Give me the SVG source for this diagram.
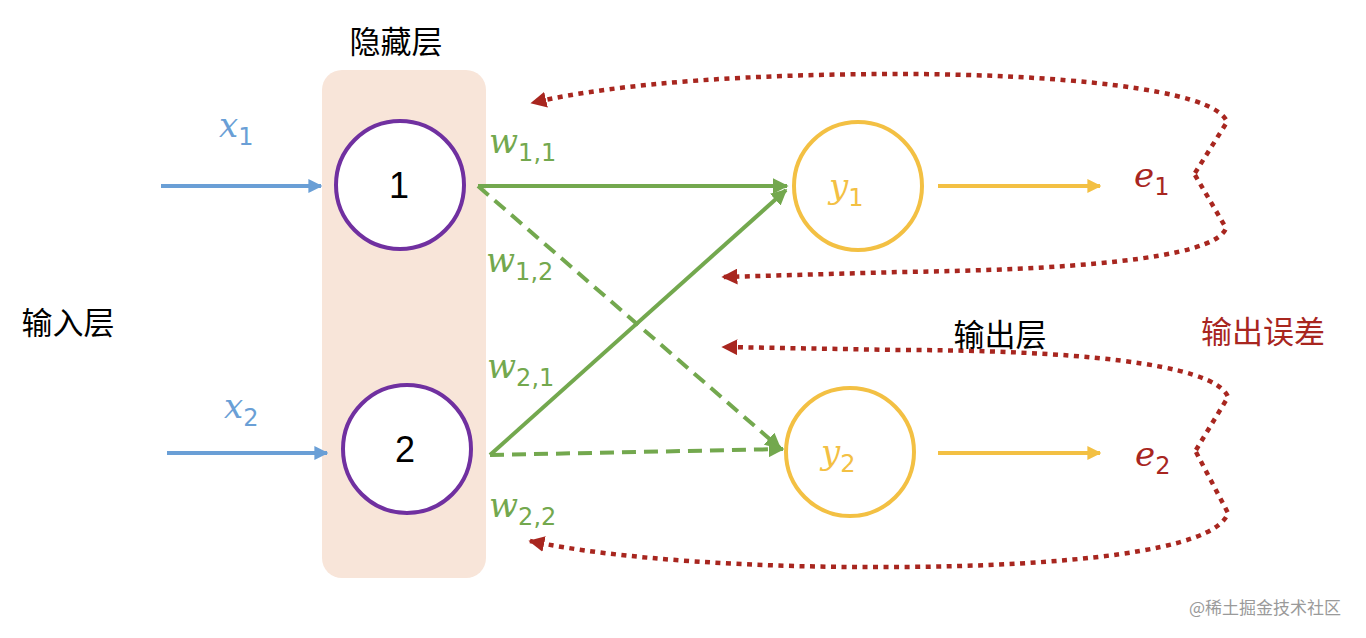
<svg xmlns="http://www.w3.org/2000/svg" width="1366" height="638" viewBox="0 0 1366 638">
<style>
.cn{font-family:"Noto Sans CJK SC","Noto Sans",sans-serif;font-size:31px;}
.math{font-family:"DejaVu Serif","Liberation Serif",serif;font-style:italic;font-size:34px;}
.sub{font-family:"DejaVu Sans","Liberation Sans",sans-serif;font-style:normal;font-size:24px;}
.blue{stroke:#6a9fd6;stroke-width:4;fill:none;}
.green{stroke:#73a84e;stroke-width:4;fill:none;}
.yellow{stroke:#f3c043;stroke-width:4;fill:none;}
.red{stroke:#a8261f;stroke-width:4.5;fill:none;stroke-dasharray:5 5.5;}
</style>
<defs>
<marker id="ab" viewBox="0 0 10 10" refX="9" refY="5" markerWidth="14" markerHeight="14" markerUnits="userSpaceOnUse" orient="auto"><path d="M0,0 L10,5 L0,10 z" fill="#6a9fd6"/></marker>
<marker id="ag" viewBox="0 0 10 10" refX="9" refY="5" markerWidth="16" markerHeight="16" markerUnits="userSpaceOnUse" orient="auto"><path d="M0,0 L10,5 L0,10 z" fill="#73a84e"/></marker>
<marker id="ay" viewBox="0 0 10 10" refX="9" refY="5" markerWidth="14" markerHeight="14" markerUnits="userSpaceOnUse" orient="auto"><path d="M0,0 L10,5 L0,10 z" fill="#f3c043"/></marker>
<marker id="ar" viewBox="0 0 10 10" refX="9" refY="5" markerWidth="16" markerHeight="16" markerUnits="userSpaceOnUse" orient="auto"><path d="M0,0 L10,5 L0,10 z" fill="#a8261f"/></marker>
</defs>
<rect width="1366" height="638" fill="#ffffff"/>

<g id="hidden-layer">
<rect x="322" y="70" width="164" height="508" rx="20" fill="#f8e5d9"/>
<text class="cn" x="396" y="53" text-anchor="middle" fill="#000">隐藏层</text>
</g>

<g id="connectors">
<line class="blue" x1="161" y1="186" x2="321" y2="186" marker-end="url(#ab)"/>
<line class="blue" x1="167" y1="453" x2="327" y2="453" marker-end="url(#ab)"/>
<line class="green" x1="478" y1="186" x2="787" y2="186" marker-end="url(#ag)"/>
<line class="green" x1="478" y1="186" x2="780" y2="448" stroke-dasharray="14 8" marker-end="url(#ag)"/>
<line class="green" x1="490" y1="455" x2="786" y2="190" marker-end="url(#ag)"/>
<line class="green" x1="490" y1="455" x2="783" y2="449" stroke-dasharray="14 8" marker-end="url(#ag)"/>
<line class="yellow" x1="938" y1="186" x2="1100" y2="186" marker-end="url(#ay)"/>
<line class="yellow" x1="938" y1="453" x2="1100" y2="453" marker-end="url(#ay)"/>
<path class="red" d="M1195,173 L1227,122 C1215,88 1050,74 900,74 C760,74 620,82 532,103" marker-end="url(#ar)"/>
<path class="red" d="M1195,175 L1226,228 C1215,260 1060,270 900,272 L723,277" marker-end="url(#ar)"/>
<path class="red" d="M1196,450 L1228,397 C1215,362 1060,350 900,350 L723,347" marker-end="url(#ar)"/>
<path class="red" d="M1196,452 L1228,513 C1215,552 1060,566 900,567 C760,568 620,560 530,541" marker-end="url(#ar)"/>
</g>

<g id="x1-label"><text class="math" x="219" y="137" fill="#6a9fd6">x<tspan class="sub" dy="8">1</tspan></text></g>
<g id="x2-label"><text class="math" x="224" y="418" fill="#6a9fd6">x<tspan class="sub" dy="8">2</tspan></text></g>

<g id="node-1">
<circle cx="400" cy="185" r="64" fill="#fff" stroke="#7030a0" stroke-width="4"/>
<text x="399" y="198" text-anchor="middle" font-family="Liberation Sans,sans-serif" font-size="36" fill="#000">1</text>
</g>
<g id="node-2">
<circle cx="407" cy="449" r="64" fill="#fff" stroke="#7030a0" stroke-width="4"/>
<text x="405" y="462" text-anchor="middle" font-family="Liberation Sans,sans-serif" font-size="36" fill="#000">2</text>
</g>

<g id="w-labels" fill="#73a84e">
<text class="math" x="489" y="153">w<tspan class="sub" dy="8">1,1</tspan></text>
<text class="math" x="486" y="272">w<tspan class="sub" dy="8">1,2</tspan></text>
<text class="math" x="487" y="378">w<tspan class="sub" dy="8">2,1</tspan></text>
<text class="math" x="489" y="517">w<tspan class="sub" dy="8">2,2</tspan></text>
</g>

<g id="node-y1">
<circle cx="858" cy="186" r="64" fill="#fff" stroke="#f3c043" stroke-width="4"/>
<text class="math" x="829" y="198" fill="#f3c043">y<tspan class="sub" dy="8">1</tspan></text>
</g>
<g id="node-y2">
<circle cx="850" cy="452" r="64" fill="#fff" stroke="#f3c043" stroke-width="4"/>
<text class="math" x="821" y="464" fill="#f3c043">y<tspan class="sub" dy="8">2</tspan></text>
</g>

<g id="e1"><text class="math" x="1134" y="187" fill="#a8261f">e<tspan class="sub" dy="8">1</tspan></text></g>
<g id="e2"><text class="math" x="1135" y="466" fill="#a8261f">e<tspan class="sub" dy="8">2</tspan></text></g>

<g id="labels">
<text class="cn" x="68" y="334" text-anchor="middle" fill="#000">输入层</text>
<text class="cn" x="1000" y="346" text-anchor="middle" fill="#000">输出层</text>
<text class="cn" x="1263" y="343" text-anchor="middle" fill="#a8261f">输出误差</text>
<text x="1265" y="614" text-anchor="middle" font-family="Noto Sans CJK SC,sans-serif" font-size="17" fill="#9a9a9a">@稀土掘金技术社区</text>
</g>
</svg>
